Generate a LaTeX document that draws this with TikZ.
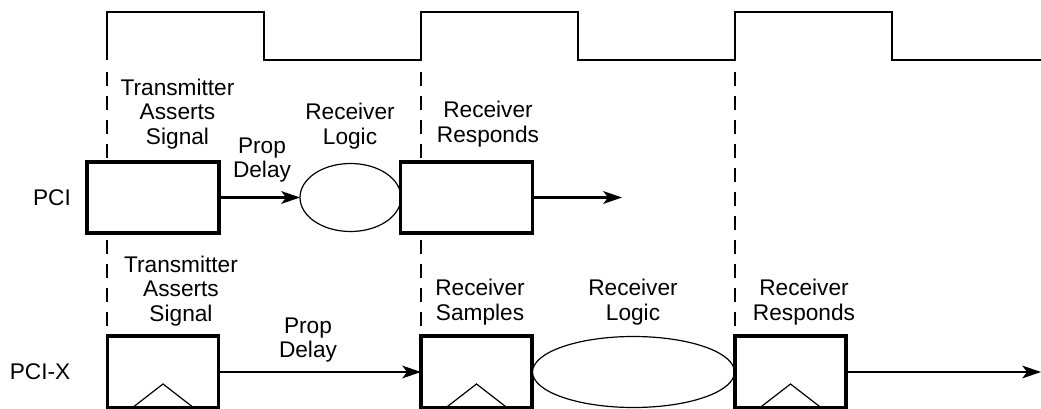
\documentclass[tikz,border=0pt]{standalone}
\usepackage{fontspec}
\setmainfont{Liberation Sans}
\usetikzlibrary{arrows.meta,shapes.geometric}
\begin{document}
\begin{tikzpicture}[x=0.75pt,y=-0.75pt,font=\fontsize{17}{18.5}\selectfont,
  pcibox/.style={draw,fill=white,line width=2.3pt,inner sep=0pt,outer sep=0pt,minimum width=99pt,minimum height=53.25pt},
  flop/.style={draw,fill=white,line width=2.3pt,inner sep=0pt,outer sep=0pt,minimum width=83.25pt,minimum height=54pt},
  logic/.style={draw,ellipse,fill=white,line width=0.9pt,inner sep=0pt,outer sep=0pt},
  lbl/.style={align=center},
  sig/.style={-{Stealth[length=14pt,width=9.5pt,inset=3.5pt]},line width=1.7pt}]
\useasboundingbox (0,0) rectangle (1041,409);
% clock
\draw[line width=2.2pt] (107,60) foreach \t in {107,421,735}{ -- (\t,60) -- (\t,12) -- (\t+157,12) -- (\t+157,60)} -- (1041,60);
\foreach \t in {107,421,735}
  \draw[line width=1.6pt,dash pattern=on 10.5pt off 7.5pt] (\t,72) -- (\t,336);
% PCI
\node[pcibox] (ta) at (153,197.5) {};
\node[logic,minimum width=75.75pt,minimum height=51pt] (la) at (350.5,197.5) {};
\node[pcibox] (ra) at (466.5,197.5) {};
\coordinate (ea) at (622,197.5);
\draw[sig] (ta.east) -- (la.west);
\draw[sig] (ra.east) -- (ea);
\node (pci) at (52,198) {PCI};
\node[lbl] (tatxt) at (177.5,114) {Transmitter\\Asserts\\Signal};
\node[lbl] (patxt) at (262,160) {Prop\\Delay};
\node[lbl] (latxt) at (350,126) {Receiver\\Logic};
\node[lbl] (ratxt) at (488,124) {Receiver\\Responds};
% PCI-X
\node[flop] (tb) at (163,372) {};
\node[flop] (sb) at (476.5,372) {};
\node[logic,minimum width=151.5pt,minimum height=53.25pt] (lb) at (633.5,372) {};
\node[flop] (rb) at (790.5,372) {};
\foreach \n in {tb,sb,rb}
  \draw[line width=0.9pt] ([xshift=-23.25pt]\n.south) -- ([yshift=18pt]\n.south) -- ([xshift=23.25pt]\n.south);
\coordinate (eb) at (1041,372);
\draw[sig] (tb.east) -- (sb.west);
\draw[sig] (rb.east) -- (eb);
\node (pcix) at (40,372) {PCI-X};
\node[lbl] (tbtxt) at (181,291) {Transmitter\\Asserts\\Signal};
\node[lbl] (pbtxt) at (308,340) {Prop\\Delay};
\node[lbl] (sbtxt) at (480,302) {Receiver\\Samples};
\node[lbl] (lbtxt) at (633,302) {Receiver\\Logic};
\node[lbl] (rbtxt) at (804,302) {Receiver\\Responds};
\end{tikzpicture}
\end{document}
